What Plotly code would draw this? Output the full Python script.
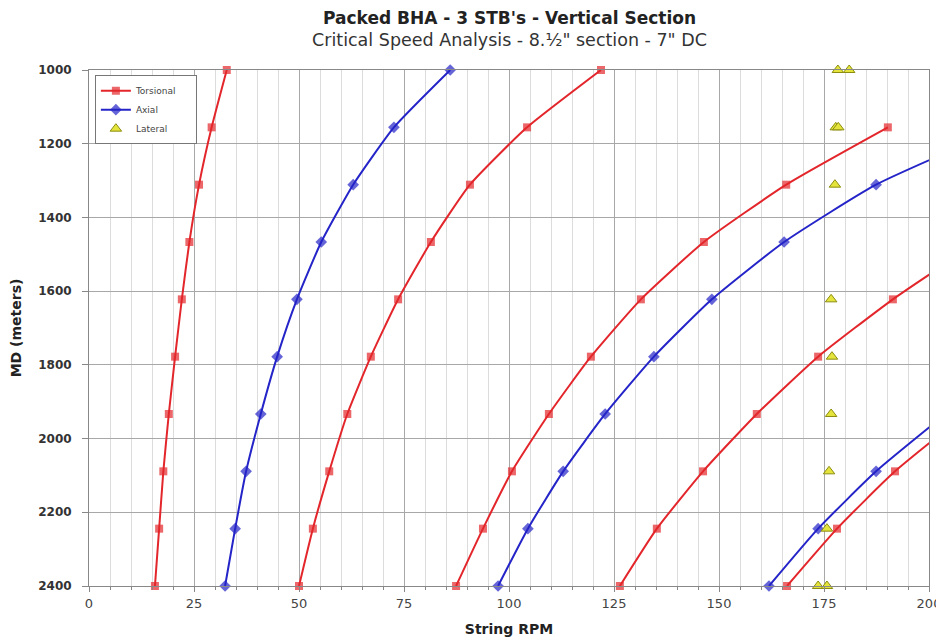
import plotly.graph_objects as go

depths = [1000, 1155.6, 1311.1, 1466.7, 1622.2, 1777.8, 1933.3, 2088.9, 2244.4, 2400]

tors1 = [32.8, 29.2, 26.2, 23.9, 22.1, 20.5, 19.0, 17.7, 16.7, 15.7]
tors2 = [121.9, 104.3, 90.7, 81.4, 73.6, 67.1, 61.5, 57.2, 53.3, 50.0]
tors3 = [None, 190.2, 166.0, 146.4, 131.4, 119.5, 109.5, 100.7, 93.8, 87.4]
tors4 = [None, None, None, 211.7, 191.4, 173.6, 159.0, 146.2, 135.2, 126.4]
tors5 = [None, None, None, None, None, None, 208.7, 191.9, 178.1, 166.2]

axial1 = [86.0, 72.6, 62.9, 55.3, 49.5, 44.8, 40.9, 37.4, 34.8, 32.4]
axial2 = [None, 218.0, 187.4, 165.5, 148.3, 134.5, 122.9, 112.9, 104.5, 97.4]
axial3 = [None, None, None, None, None, None, 204.0, 187.4, 173.6, 161.9]

lat_depths = [1000, 1000, 1155.6, 1155.6, 1311.1, 1622.2, 1777.8, 1933.3, 2088.9, 2244.4, 2400, 2400]
lat_rpm = [178.3, 181.0, 177.8, 178.4, 177.6, 176.7, 176.9, 176.7, 176.2, 175.7, 173.6, 175.7]

title_text = "Packed BHA - 3 STB's - Vertical Section"
subtitle_text = "Critical Speed Analysis - 8.½\" section - 7\" DC"

RED = "#e3262b"
BLUE = "#2424c8"
FONT = "DejaVu Sans, Verdana, sans-serif"
PAD = "\u00a0" * 5

fig = go.Figure()


def add_series(vals, name, color, symbol, size, show):
    xs, ys = [], []
    for v, d in zip(vals, depths):
        if v is not None:
            xs.append(v)
            ys.append(d)
    sizes = [size if v <= 200 else 0 for v in xs]
    fig.add_trace(go.Scatter(
        x=xs, y=ys, mode="lines+markers", name=name + PAD,
        legendgroup=name, showlegend=show,
        line=dict(color=color, width=2, shape="spline", smoothing=0.5),
        marker=dict(color=color, symbol=symbol, size=sizes,
                    line=dict(color=color, width=0)),
        cliponaxis=False,
    ))


add_series(tors1, "Torsional", RED, "square", 8, True)
add_series(axial1, "Axial", BLUE, "diamond", 9, True)
add_series(tors2, "Torsional", RED, "square", 8, False)
add_series(tors3, "Torsional", RED, "square", 8, False)
add_series(tors4, "Torsional", RED, "square", 8, False)
add_series(tors5, "Torsional", RED, "square", 8, False)
add_series(axial2, "Axial", BLUE, "diamond", 9, False)
add_series(axial3, "Axial", BLUE, "diamond", 9, False)

fig.add_trace(go.Scatter(
    x=lat_rpm, y=lat_depths, mode="markers", name="Lateral" + PAD,
    marker=dict(symbol="triangle-up", size=10, color="#e4e43c",
                line=dict(color="#8c8c10", width=1)),
    cliponaxis=False,
))

fig.update_layout(
    width=936, height=633,
    margin=dict(l=81, r=15, t=62, b=55, autoexpand=False),
    paper_bgcolor="white", plot_bgcolor="white",
    font=dict(family=FONT, color="#222"),
    legend=dict(
        x=0.007, y=0.99, xanchor="left", yanchor="top",
        bgcolor="white", bordercolor="#777", borderwidth=1,
        font=dict(size=9, color="#444"), tracegroupgap=0,
        itemsizing="trace",
    ),
    showlegend=True,
    annotations=[
        dict(text="<b>" + title_text + "</b>", xref="paper", yref="paper",
             x=0.5, y=1, yshift=62 - 10, xanchor="center", yanchor="middle",
             showarrow=False, font=dict(size=17, color="#222", family=FONT)),
        dict(text=subtitle_text, xref="paper", yref="paper",
             x=0.5, y=1, yshift=62 - 32, xanchor="center", yanchor="middle",
             showarrow=False, font=dict(size=17.5, color="#333", family=FONT)),
    ],
)

fig.update_xaxes(
    range=[0, 200], dtick=25, tick0=0,
    showgrid=True, gridcolor="#a8a8a8", gridwidth=1,
    minor=dict(dtick=5, showgrid=True, gridcolor="#dcdcdc", ticks="outside", ticklen=3, tickcolor="#888"),
    showline=True, linecolor="#888", linewidth=1, mirror=True,
    ticks="outside", ticklen=5, tickcolor="#888",
    tickfont=dict(size=13, color="#444", family=FONT),
    zeroline=False, automargin=False,
    title=dict(text="<b>String RPM</b>", font=dict(size=14, color="#222", family=FONT), standoff=14),
)
fig.update_yaxes(
    range=[2400, 1000], dtick=200, tick0=1000,
    showgrid=True, gridcolor="#a8a8a8", gridwidth=1,
    showline=True, linecolor="#888", linewidth=1, mirror=True,
    ticks="outside", ticklen=6, tickcolor="#888",
    tickfont=dict(size=12, color="#333", weight="bold", family=FONT),
    ticklabelstandoff=8,
    zeroline=False, automargin=False,
    title=dict(text="<b>MD (meters)</b>", font=dict(size=14, color="#222", family=FONT), standoff=14),
)

fig.write_html("out.html")
